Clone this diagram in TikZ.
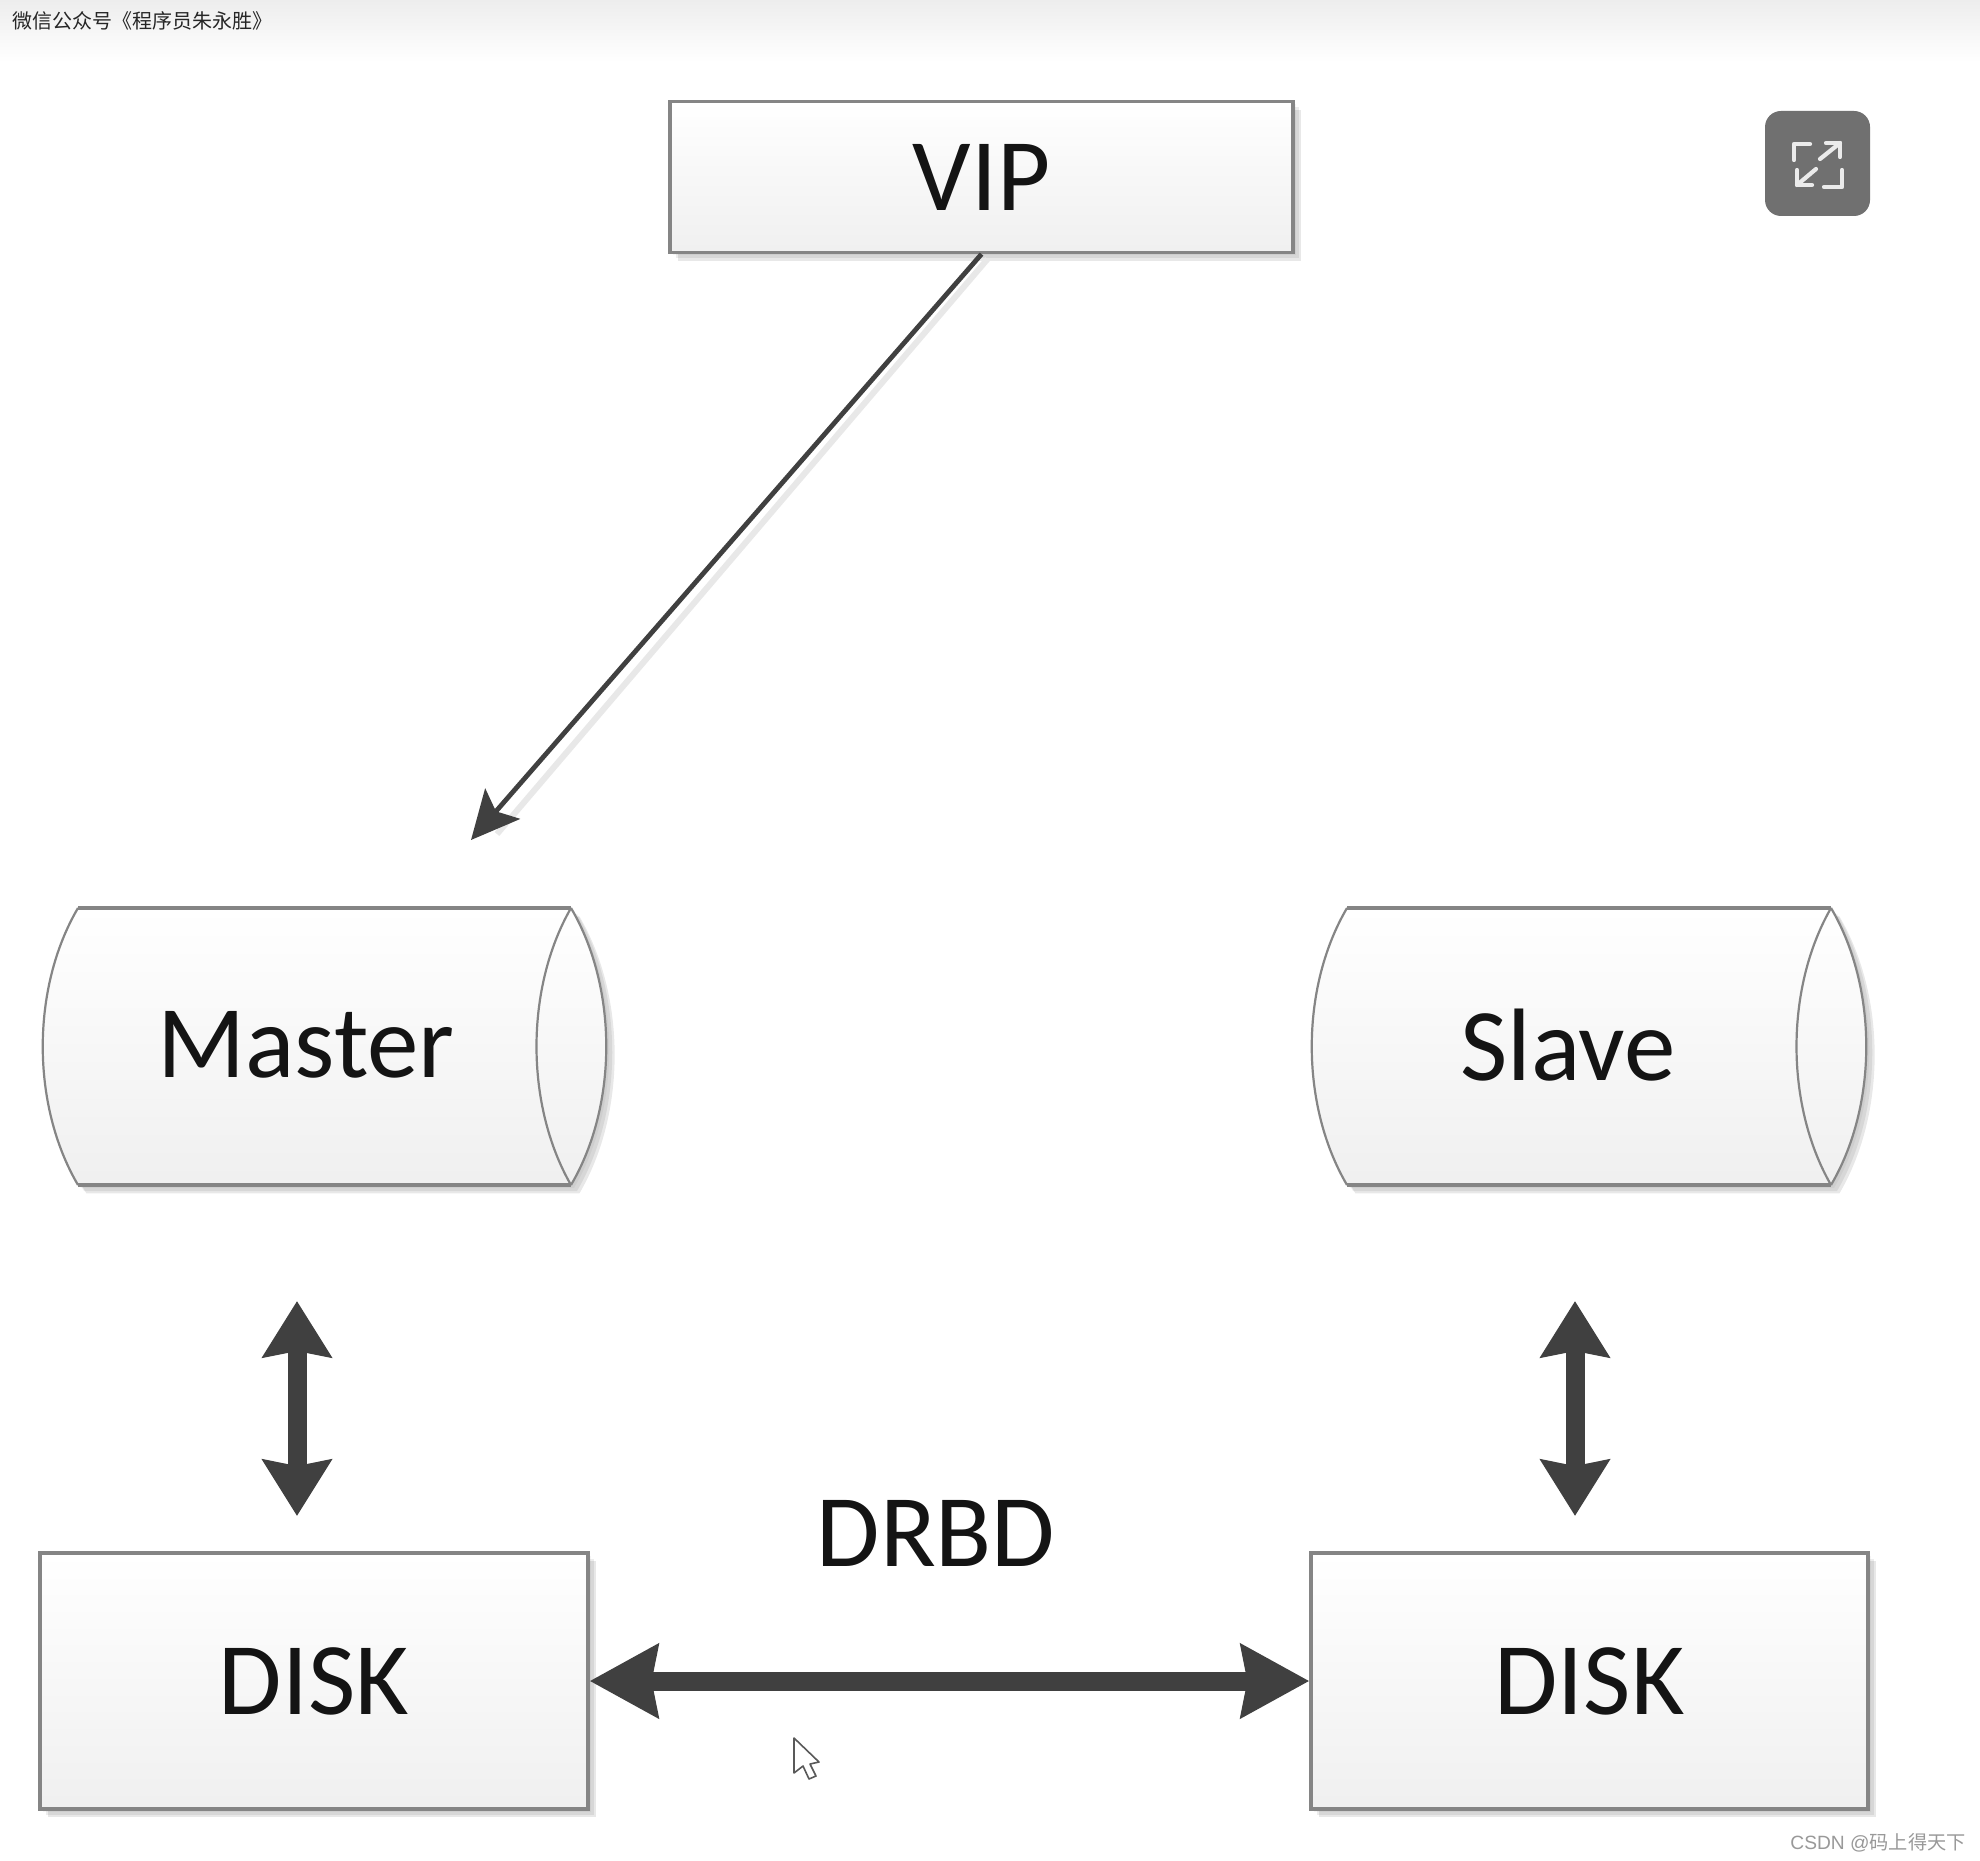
\documentclass[tikz,border=0pt]{standalone}
\usepackage{fontspec}
\setmainfont{Carlito}
\newfontfamily\cjkfont{Noto Sans CJK SC}
\newfontfamily\markfont{Liberation Sans}
\usetikzlibrary{arrows.meta,shadows,calc}
\definecolor{edgegray}{HTML}{858585}
\definecolor{arrowdark}{HTML}{404040}
\definecolor{inkdark}{HTML}{141414}
\definecolor{icongray}{HTML}{707070}
\tikzset{
  softshadow/.style={
    general shadow={fill=black,opacity=.04,shadow xshift=1.5pt,shadow yshift=-1.5pt},
    general shadow={fill=black,opacity=.07,shadow xshift=3pt,shadow yshift=-3pt},
    general shadow={fill=black,opacity=.09,shadow xshift=4.2pt,shadow yshift=-4.2pt}},
  boxfill/.style={top color=white,bottom color=black!6,draw=edgegray,line width=1.6pt},
  boxnode/.style={boxfill,softshadow,rectangle,inner sep=0pt,font=\fontsize{51.5}{52}\selectfont,text=inkdark},
  tubeline/.style={draw=edgegray,line width=1.1pt},
  tubeedge/.style={draw=edgegray,line width=1.9pt},
  labelnode/.style={inner sep=0pt,font=\fontsize{51.5}{52}\selectfont,text=inkdark},
  thinarrow/.style={draw=arrowdark,line width=2.4pt,-{Stealth[length=24pt,width=23pt,inset=5pt]}},
  fatarrow/.style={draw=arrowdark,line width=9.5pt,{Stealth[length=28pt,width=34pt,inset=3pt]}-{Stealth[length=28pt,width=34pt,inset=3pt]}},
  widearrow/.style={draw=arrowdark,line width=9.5pt,{Stealth[length=34pt,width=36pt,inset=3pt]}-{Stealth[length=34pt,width=36pt,inset=3pt]}},
  arrowshade/.style={draw=black!9,line width=3pt},
  iconline/.style={draw=white!92!black,line width=2.1pt,line join=round,line cap=round},
}
\newcommand{\tubeshape}[5]{% name, x0, x1, y0, y1
  \path[boxfill,draw=none,softshadow]
    ({#2+36},#4) .. controls ({#2-11},{#4+80}) and ({#2-11},{#5-80}) .. ({#2+36},#5)
    -- ({#3-35},#5) .. controls ({#3+12},{#5-80}) and ({#3+12},{#4+80}) .. ({#3-35},#4) -- cycle;
  \draw[tubeline] ({#2+36},#4) .. controls ({#2-11},{#4+80}) and ({#2-11},{#5-80}) .. ({#2+36},#5);
  \draw[tubeline] ({#3-35},#4) .. controls ({#3+12},{#4+80}) and ({#3+12},{#5-80}) .. ({#3-35},#5);
  \draw[tubeline] ({#3-35},#4) .. controls ({#3-81},{#4+80}) and ({#3-81},{#5-80}) .. ({#3-35},#5);
  \draw[tubeedge] ({#2+36},#4) -- ({#3-35},#4);
  \draw[tubeedge] ({#2+36},#5) -- ({#3-35},#5);
  \coordinate (#1) at ({(#2+#3)/2},{(#4+#5)/2});
}
\begin{document}
\begin{tikzpicture}[x=0.5pt,y=-0.5pt]
\useasboundingbox (0,0) rectangle (1980,1861);
\fill[white] (0,0) rectangle (1980,1861);
\shade[top color=black!7,bottom color=white] (0,0) rectangle (1980,62);
\node[anchor=west,inner sep=0pt,text=black!85] (wechat) at (12,21) {\cjkfont\fontsize{10}{10}\selectfont 微信公众号《程序员朱永胜》};

% expand icon
\fill[icongray,rounded corners=8pt] (1765,111) rectangle (1870,216);
\draw[iconline] (1794,160) -- (1794,144) -- (1810,144);
\draw[iconline] (1842,170) -- (1842,187) -- (1824,187);
\draw[iconline] (1820,159) -- (1840,143);
\draw[iconline] (1826,143) -- (1840,143) -- (1840,157);
\draw[iconline] (1816,169) -- (1797,185);
\draw[iconline] (1797,170) -- (1797,185) -- (1812,185);

% nodes
\node[boxnode,minimum width=311.5pt,minimum height=75.5pt] (vip) at (981.5,177) {VIP};
\tubeshape{master}{42}{606}{908}{1185}
\tubeshape{slave}{1311}{1866}{908}{1185}
\node[labelnode] (masterlabel) at (306,1045) {Master};
\node[labelnode] (slavelabel) at (1568,1045) {Slave};
\node[boxnode,minimum width=274pt,minimum height=128pt] (diskl) at (314,1681) {DISK};
\node[boxnode,minimum width=278.5pt,minimum height=128pt] (diskr) at (1589.5,1681) {DISK};
\node[labelnode] (drbd) at (936,1533) {DRBD};

% connectors
\coordinate (vipend) at (471,840);
\coordinate (mt) at (297,1301);
\coordinate (mb) at (297,1516);
\coordinate (st) at (1575,1301);
\coordinate (sb) at (1575,1516);
\coordinate (vipshadea) at ($(vip.south)+(6,5)$);
\coordinate (vipshadeb) at ($(vipend)+(26,-6)$);
\draw[arrowshade] (vipshadea) -- (vipshadeb);
\draw[thinarrow] (vip.south) -- (vipend);
\draw[fatarrow] (mt) -- (mb);
\draw[fatarrow] (st) -- (sb);
\draw[widearrow] (diskl.east) -- (diskr.west);

% cursor
\draw[draw=black!65,fill=white,line width=.8pt,line join=round]
  (794,1738) -- (794,1773) -- (803,1766) -- (809,1779) -- (816,1776) -- (810,1764) -- (819,1762) -- cycle;

% watermark
\node[anchor=east,inner sep=0pt,text=black!40] (csdn) at (1966,1843) {\fontsize{9.6}{10}\selectfont\markfont CSDN @\cjkfont 码上得天下};
\end{tikzpicture}
\end{document}
